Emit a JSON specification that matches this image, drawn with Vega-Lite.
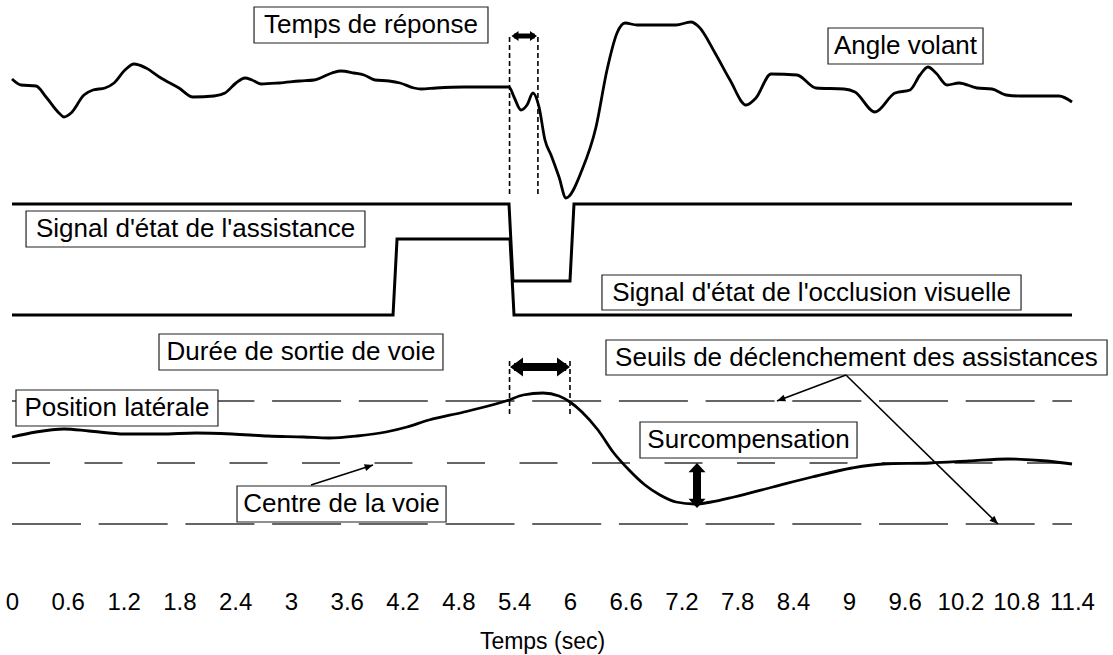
{
  "$schema": "https://vega.github.io/schema/vega-lite/v6.json",
  "width": 1060,
  "height": 585,
  "autosize": {"type": "none"},
  "padding": {"left": 12, "top": 0, "right": 41, "bottom": 70},
  "background": "white",
  "config": {
    "view": {"stroke": null},
    "font": "Liberation Sans"
  },
  "datasets": {
    "smooth": [
      {"s": "angle", "t": 0.0, "v": 506}, {"s": "angle", "t": 0.097, "v": 500}, {"s": "angle", "t": 0.258, "v": 499}, {"s": "angle", "t": 0.366, "v": 488},
      {"s": "angle", "t": 0.505, "v": 472}, {"s": "angle", "t": 0.559, "v": 468}, {"s": "angle", "t": 0.635, "v": 472}, {"s": "angle", "t": 0.774, "v": 490},
      {"s": "angle", "t": 0.871, "v": 495}, {"s": "angle", "t": 1.0, "v": 497}, {"s": "angle", "t": 1.097, "v": 502}, {"s": "angle", "t": 1.215, "v": 515},
      {"s": "angle", "t": 1.312, "v": 521}, {"s": "angle", "t": 1.441, "v": 517}, {"s": "angle", "t": 1.602, "v": 507}, {"s": "angle", "t": 1.796, "v": 497},
      {"s": "angle", "t": 1.947, "v": 488}, {"s": "angle", "t": 2.172, "v": 489}, {"s": "angle", "t": 2.291, "v": 492}, {"s": "angle", "t": 2.409, "v": 502},
      {"s": "angle", "t": 2.506, "v": 507}, {"s": "angle", "t": 2.581, "v": 505}, {"s": "angle", "t": 2.678, "v": 501}, {"s": "angle", "t": 2.872, "v": 502},
      {"s": "angle", "t": 3.097, "v": 504}, {"s": "angle", "t": 3.248, "v": 505}, {"s": "angle", "t": 3.441, "v": 512}, {"s": "angle", "t": 3.538, "v": 514},
      {"s": "angle", "t": 3.678, "v": 512}, {"s": "angle", "t": 3.786, "v": 510}, {"s": "angle", "t": 3.904, "v": 505}, {"s": "angle", "t": 4.055, "v": 504},
      {"s": "angle", "t": 4.173, "v": 502}, {"s": "angle", "t": 4.323, "v": 497}, {"s": "angle", "t": 4.399, "v": 496}, {"s": "angle", "t": 4.56, "v": 497},
      {"s": "angle", "t": 4.861, "v": 498}, {"s": "angle", "t": 5.345, "v": 498}, {"s": "angle", "t": 5.399, "v": 488}, {"s": "angle", "t": 5.474, "v": 475},
      {"s": "angle", "t": 5.539, "v": 480}, {"s": "angle", "t": 5.603, "v": 492}, {"s": "angle", "t": 5.668, "v": 478}, {"s": "angle", "t": 5.732, "v": 445},
      {"s": "angle", "t": 5.797, "v": 430}, {"s": "angle", "t": 5.883, "v": 408}, {"s": "angle", "t": 5.958, "v": 387}, {"s": "angle", "t": 6.13, "v": 415},
      {"s": "angle", "t": 6.281, "v": 458}, {"s": "angle", "t": 6.399, "v": 515}, {"s": "angle", "t": 6.507, "v": 552}, {"s": "angle", "t": 6.593, "v": 562},
      {"s": "angle", "t": 6.722, "v": 560}, {"s": "angle", "t": 7.141, "v": 560}, {"s": "angle", "t": 7.302, "v": 563}, {"s": "angle", "t": 7.389, "v": 558},
      {"s": "angle", "t": 7.561, "v": 532}, {"s": "angle", "t": 7.722, "v": 505}, {"s": "angle", "t": 7.894, "v": 480}, {"s": "angle", "t": 8.001, "v": 487},
      {"s": "angle", "t": 8.163, "v": 511}, {"s": "angle", "t": 8.442, "v": 510}, {"s": "angle", "t": 8.647, "v": 497}, {"s": "angle", "t": 8.948, "v": 496},
      {"s": "angle", "t": 9.066, "v": 493}, {"s": "angle", "t": 9.281, "v": 473}, {"s": "angle", "t": 9.497, "v": 492}, {"s": "angle", "t": 9.658, "v": 495},
      {"s": "angle", "t": 9.765, "v": 510}, {"s": "angle", "t": 9.851, "v": 518}, {"s": "angle", "t": 9.937, "v": 512}, {"s": "angle", "t": 10.056, "v": 500},
      {"s": "angle", "t": 10.185, "v": 502}, {"s": "angle", "t": 10.378, "v": 497}, {"s": "angle", "t": 10.54, "v": 496}, {"s": "angle", "t": 10.69, "v": 490},
      {"s": "angle", "t": 10.841, "v": 489}, {"s": "angle", "t": 11.26, "v": 489}, {"s": "angle", "t": 11.4, "v": 483},
      {"s": "lat", "t": 0.0, "v": 148}, {"s": "lat", "t": 0.258, "v": 153}, {"s": "lat", "t": 0.559, "v": 156}, {"s": "lat", "t": 0.828, "v": 154},
      {"s": "lat", "t": 1.215, "v": 151}, {"s": "lat", "t": 1.602, "v": 151}, {"s": "lat", "t": 1.979, "v": 152}, {"s": "lat", "t": 2.366, "v": 151},
      {"s": "lat", "t": 2.753, "v": 149}, {"s": "lat", "t": 3.14, "v": 148}, {"s": "lat", "t": 3.409, "v": 147}, {"s": "lat", "t": 3.71, "v": 149},
      {"s": "lat", "t": 4.022, "v": 153}, {"s": "lat", "t": 4.248, "v": 158}, {"s": "lat", "t": 4.485, "v": 165}, {"s": "lat", "t": 4.861, "v": 173},
      {"s": "lat", "t": 5.345, "v": 185}, {"s": "lat", "t": 5.496, "v": 190}, {"s": "lat", "t": 5.711, "v": 192}, {"s": "lat", "t": 5.883, "v": 189},
      {"s": "lat", "t": 6.001, "v": 183}, {"s": "lat", "t": 6.13, "v": 173}, {"s": "lat", "t": 6.302, "v": 155}, {"s": "lat", "t": 6.464, "v": 133},
      {"s": "lat", "t": 6.636, "v": 115}, {"s": "lat", "t": 6.808, "v": 100}, {"s": "lat", "t": 6.969, "v": 90}, {"s": "lat", "t": 7.141, "v": 83},
      {"s": "lat", "t": 7.345, "v": 81}, {"s": "lat", "t": 7.518, "v": 83}, {"s": "lat", "t": 7.765, "v": 88}, {"s": "lat", "t": 8.184, "v": 98},
      {"s": "lat", "t": 8.604, "v": 108}, {"s": "lat", "t": 9.034, "v": 117}, {"s": "lat", "t": 9.367, "v": 121}, {"s": "lat", "t": 9.873, "v": 122},
      {"s": "lat", "t": 10.292, "v": 124}, {"s": "lat", "t": 10.712, "v": 126}, {"s": "lat", "t": 11.131, "v": 124}, {"s": "lat", "t": 11.4, "v": 121}
    ],
    "signals": [
      {"s": "assist", "t": 0.0, "v": 270}, {"s": "assist", "t": 4.098, "v": 270}, {"s": "assist", "t": 4.141, "v": 346},
      {"s": "assist", "t": 5.356, "v": 346}, {"s": "assist", "t": 5.399, "v": 270}, {"s": "assist", "t": 11.4, "v": 270},
      {"s": "occl", "t": 0.0, "v": 381}, {"s": "occl", "t": 5.345, "v": 381}, {"s": "occl", "t": 5.388, "v": 304},
      {"s": "occl", "t": 6.001, "v": 304}, {"s": "occl", "t": 6.044, "v": 381}, {"s": "occl", "t": 11.4, "v": 381}
    ],
    "boxes": [
      {"label": "Temps de réponse", "t": 2.603, "t2": 5.119, "v": 542, "v2": 578},
      {"label": "Angle volant", "t": 8.776, "t2": 10.443, "v": 521, "v2": 557},
      {"label": "Signal d'état de l'assistance", "t": 0.151, "t2": 3.796, "v": 338, "v2": 374},
      {"label": "Signal d'état de l'occlusion visuelle", "t": 6.345, "t2": 10.852, "v": 275, "v2": 310},
      {"label": "Durée de sortie de voie", "t": 1.581, "t2": 4.635, "v": 215, "v2": 251},
      {"label": "Position latérale", "t": 0.043, "t2": 2.215, "v": 159, "v2": 195},
      {"label": "Centre de la voie", "t": 2.42, "t2": 4.668, "v": 63, "v2": 99},
      {"label": "Seuils de déclenchement des assistances", "t": 6.388, "t2": 11.777, "v": 210, "v2": 245},
      {"label": "Surcompensation", "t": 6.754, "t2": 9.088, "v": 127, "v2": 163}
    ],
    "labels": [
      {"label": "Temps de réponse", "t": 3.861, "v": 560},
      {"label": "Angle volant", "t": 9.609, "v": 539},
      {"label": "Signal d'état de l'assistance", "t": 1.974, "v": 356},
      {"label": "Signal d'état de l'occlusion visuelle", "t": 8.599, "v": 292.5},
      {"label": "Durée de sortie de voie", "t": 3.108, "v": 233},
      {"label": "Position latérale", "t": 1.129, "v": 177},
      {"label": "Centre de la voie", "t": 3.544, "v": 81},
      {"label": "Seuils de déclenchement des assistances", "t": 9.082, "v": 227.5},
      {"label": "Surcompensation", "t": 7.921, "v": 145}
    ]
  },
  "encoding": {
    "x": {
      "field": "t", "type": "quantitative",
      "scale": {"domain": [0, 11.4], "nice": false, "zero": false},
      "axis": {
        "title": "Temps (sec)",
        "values": [0, 0.6, 1.2, 1.8, 2.4, 3, 3.6, 4.2, 4.8, 5.4, 6, 6.6, 7.2, 7.8, 8.4, 9, 9.6, 10.2, 10.8, 11.4],
        "format": "~g",
        "domain": false, "ticks": false, "tickSize": 0, "grid": false,
        "labelFont": "Liberation Sans", "labelFontSize": 24, "labelColor": "black",
        "labelPadding": 5, "labelFlush": false, "labelOverlap": false, "labelBound": false,
        "titleFont": "Liberation Sans", "titleFontSize": 23, "titleFontWeight": "normal",
        "titleColor": "black", "titlePadding": 16
      }
    },
    "y": {
      "field": "v", "type": "quantitative",
      "scale": {"domain": [0, 585], "nice": false, "zero": false},
      "axis": null
    }
  },
  "layer": [
    {
      "data": {"values": [{"t": 0, "t2": 11.4, "v": 184}, {"t": 0, "t2": 11.4, "v": 61}]},
      "mark": {"type": "rule", "stroke": "#333333", "strokeWidth": 1.5, "strokeDash": [69, 17.7]},
      "encoding": {"x2": {"field": "t2"}}
    },
    {
      "data": {"values": [{"t": 0, "t2": 11.4, "v": 122}]},
      "mark": {"type": "rule", "stroke": "#333333", "strokeWidth": 1.5, "strokeDash": [38, 34.5]},
      "encoding": {"x2": {"field": "t2"}}
    },
    {
      "data": {"values": [
        {"t": 5.351, "v": 548, "v2": 388}, {"t": 5.656, "v": 548, "v2": 388},
        {"t": 5.351, "v": 224, "v2": 170}, {"t": 6.001, "v": 224, "v2": 170}
      ]},
      "mark": {"type": "rule", "stroke": "black", "strokeWidth": 1.6, "strokeDash": [5, 3]},
      "encoding": {"y2": {"field": "v2"}}
    },
    {
      "data": {"name": "boxes"},
      "mark": {"type": "rect", "fill": "white", "stroke": "#222222", "strokeWidth": 1.2},
      "encoding": {"x2": {"field": "t2"}, "y2": {"field": "v2"}}
    },
    {
      "data": {"name": "smooth"},
      "mark": {"type": "line", "stroke": "black", "strokeWidth": 2.8, "interpolate": "monotone"},
      "encoding": {"detail": {"field": "s"}}
    },
    {
      "data": {"name": "signals"},
      "mark": {"type": "line", "stroke": "black", "strokeWidth": 3},
      "encoding": {"detail": {"field": "s"}}
    },
    {
      "data": {"name": "labels"},
      "mark": {"type": "text", "font": "Liberation Sans", "fontSize": 26, "color": "black", "align": "center", "baseline": "middle"},
      "encoding": {"text": {"field": "label"}}
    },
    {
      "data": {"values": [{"t": 5.40, "t2": 5.62, "v": 549, "v2": 549}]},
      "mark": {"type": "rule", "stroke": "black", "strokeWidth": 5},
      "encoding": {"x2": {"field": "t2"}, "y2": {"field": "v2"}}
    },
    {
      "data": {"values": [{"t": 5.40, "t2": 5.96, "v": 218, "v2": 218}, {"t": 7.367, "t2": 7.367, "v": 115, "v2": 84}]},
      "mark": {"type": "rule", "stroke": "black", "strokeWidth": 8},
      "encoding": {"x2": {"field": "t2"}, "y2": {"field": "v2"}}
    },
    {
      "data": {"values": [
        {"t": 3.216, "v": 100, "t2": 3.883, "v2": 120},
        {"t": 8.969, "v": 210, "t2": 8.227, "v2": 184},
        {"t": 8.969, "v": 210, "t2": 10.604, "v2": 61}
      ]},
      "mark": {"type": "rule", "stroke": "black", "strokeWidth": 1.6},
      "encoding": {"x2": {"field": "t2"}, "y2": {"field": "v2"}}
    },
    {
      "data": {"values": [{"t": 5.372, "v": 549}]},
      "mark": {"type": "point", "shape": "M0,0L1.4,-1L1.4,1Z", "size": 100, "filled": true, "color": "black", "opacity": 1}
    },
    {
      "data": {"values": [{"t": 5.646, "v": 549}]},
      "mark": {"type": "point", "shape": "M0,0L-1.4,-1L-1.4,1Z", "size": 100, "filled": true, "color": "black", "opacity": 1}
    },
    {
      "data": {"values": [{"t": 5.356, "v": 218}]},
      "mark": {"type": "point", "shape": "M0,0L1.37,-1L1.37,1Z", "size": 361, "filled": true, "color": "black", "opacity": 1}
    },
    {
      "data": {"values": [{"t": 6.001, "v": 218}]},
      "mark": {"type": "point", "shape": "M0,0L-1.37,-1L-1.37,1Z", "size": 361, "filled": true, "color": "black", "opacity": 1}
    },
    {
      "data": {"values": [{"t": 7.367, "v": 122}]},
      "mark": {"type": "point", "shape": "M0,0L-1,1.1L1,1.1Z", "size": 289, "filled": true, "color": "black", "opacity": 1}
    },
    {
      "data": {"values": [{"t": 7.367, "v": 77}]},
      "mark": {"type": "point", "shape": "M0,0L-1,-1.1L1,-1.1Z", "size": 289, "filled": true, "color": "black", "opacity": 1}
    },
    {
      "data": {"values": [{"t": 3.883, "v": 120}]},
      "mark": {"type": "point", "shape": "M0,0L-1,2.4L1,2.4Z", "size": 49, "angle": 72, "filled": true, "color": "black", "opacity": 1}
    },
    {
      "data": {"values": [{"t": 8.227, "v": 184}]},
      "mark": {"type": "point", "shape": "M0,0L-1,2.4L1,2.4Z", "size": 49, "angle": 249, "filled": true, "color": "black", "opacity": 1}
    },
    {
      "data": {"values": [{"t": 10.604, "v": 61}]},
      "mark": {"type": "point", "shape": "M0,0L-1,2.4L1,2.4Z", "size": 49, "angle": 134, "filled": true, "color": "black", "opacity": 1}
    }
  ]
}
